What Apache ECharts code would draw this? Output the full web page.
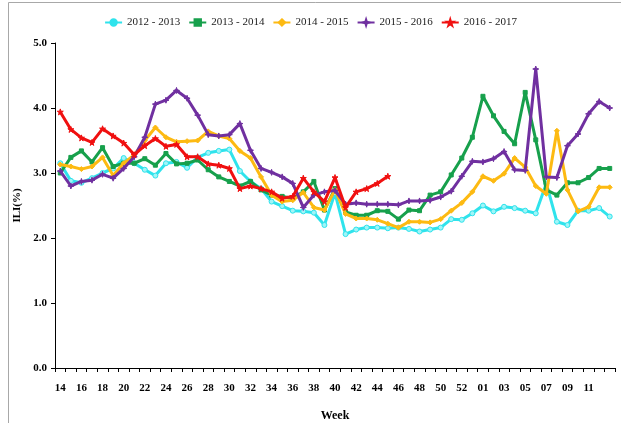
<!DOCTYPE html>
<html>
<head>
<meta charset="utf-8">
<script src="https://cdn.jsdelivr.net/npm/echarts@6/dist/echarts.min.js"></script>
<style>
html,body{margin:0;padding:0;background:#fff;}
#chart{width:621px;height:423px;}
</style>
</head>
<body>
<div id="chart"></div>
<script>
const weeks = ['14','15','16','17','18','19','20','21','22','23','24','25','26','27','28','29','30','31','32','33','34','35','36','37','38','39','40','41','42','43','44','45','46','47','48','49','50','51','52','53','01','02','03','04','05','06','07','08','09','10','11','12','13'];
const yTicks = [0, 1, 2, 3, 4, 5];
const seriesNames = ['2012 - 2013', '2013 - 2014', '2014 - 2015', '2015 - 2016', '2016 - 2017'];
const s2012 = [3.15,2.88,2.85,2.92,3.00,3.07,3.23,3.15,3.05,2.96,3.15,3.17,3.08,3.24,3.31,3.34,3.36,3.03,2.87,2.76,2.56,2.49,2.42,2.41,2.39,2.20,2.69,2.06,2.13,2.16,2.16,2.15,2.16,2.14,2.10,2.13,2.16,2.29,2.28,2.38,2.50,2.41,2.48,2.46,2.42,2.38,2.84,2.25,2.20,2.42,2.42,2.46,2.33];
const s2013 = [3.00,3.24,3.34,3.17,3.39,3.10,3.15,3.15,3.22,3.12,3.30,3.14,3.15,3.20,3.05,2.94,2.87,2.80,2.87,2.74,2.66,2.64,2.61,2.71,2.87,2.43,2.76,2.40,2.35,2.35,2.42,2.41,2.29,2.43,2.42,2.66,2.71,2.97,3.23,3.55,4.18,3.88,3.64,3.45,4.24,3.51,2.74,2.66,2.85,2.85,2.93,3.07,3.07];
const s2014 = [3.13,3.10,3.06,3.10,3.24,2.96,3.15,3.28,3.50,3.70,3.55,3.48,3.49,3.50,3.64,3.57,3.53,3.34,3.23,2.94,2.66,2.56,2.58,2.70,2.47,2.43,2.74,2.37,2.30,2.30,2.28,2.22,2.16,2.25,2.25,2.24,2.29,2.42,2.54,2.71,2.95,2.88,2.99,3.23,3.09,2.80,2.68,3.65,2.74,2.41,2.48,2.78,2.78];
const s2015 = [3.03,2.80,2.87,2.89,2.98,2.92,3.07,3.25,3.55,4.06,4.12,4.27,4.15,3.89,3.59,3.57,3.59,3.76,3.35,3.07,3.01,2.94,2.84,2.47,2.66,2.71,2.73,2.52,2.54,2.52,2.52,2.52,2.51,2.57,2.57,2.58,2.63,2.72,2.95,3.18,3.17,3.22,3.33,3.05,3.04,4.60,2.94,2.93,3.42,3.60,3.91,4.10,4.00];
const s2016 = [3.94,3.67,3.54,3.47,3.68,3.57,3.46,3.28,3.42,3.53,3.41,3.44,3.25,3.25,3.14,3.12,3.07,2.76,2.80,2.76,2.71,2.61,2.64,2.92,2.71,2.56,2.93,2.47,2.71,2.76,2.84,2.95];

const colors = ['#2FE3EC', '#17A04C', '#FDBA12', '#7030A0', '#F01010'];
const symbols = [
  'circle',
  'rect',
  'diamond',
  'path://M50,0 L62,38 L100,50 L62,62 L50,100 L38,62 L0,50 L38,38 Z',
  'path://M50,0 L61,35 L98,35 L68,57 L79,91 L50,70 L21,91 L32,57 L2,35 L39,35 Z'
];
const dataSets = [s2012, s2013, s2014, s2015, s2016];
const sizes = [5, 4, 5, 6, 6];

const chart = echarts.init(document.getElementById('chart'), null, {renderer: 'canvas'});
const serif = 'Liberation Serif';
chart.setOption({
  animation: false,
  backgroundColor: '#fff',
  graphic: [{
    type: 'rect', shape: {x: 8.5, y: 2.5, width: 700, height: 600},
    style: {fill: 'none', stroke: '#a8a8a8', lineWidth: 1}, silent: true
  }],
  legend: {
    top: 12, left: 'center',
    itemWidth: 17, itemHeight: 8, itemGap: 8,
    textStyle: {fontFamily: serif, fontSize: 11, color: '#222'},
    data: seriesNames.map(function (n, k) {
      return {name: n, itemStyle: {color: colors[k], borderColor: colors[k]}};
    })
  },
  grid: {left: 55, right: 6, top: 43, bottom: 55, containLabel: false, outerBoundsMode: 'none'},
  xAxis: {
    type: 'category', data: weeks, boundaryGap: true,
    name: 'Week', nameLocation: 'middle', nameGap: 42,
    nameTextStyle: {fontFamily: serif, fontWeight: 'bold', fontSize: 12, color: '#000'},
    axisLine: {lineStyle: {color: '#000', width: 1}},
    axisTick: {show: true, interval: 0, alignWithLabel: false, length: 4, lineStyle: {color: '#000'}},
    axisLabel: {
      interval: function (i) { return i % 2 === 0 && i < 52; },
      fontFamily: serif, fontWeight: 'bold', fontSize: 11, color: '#000', margin: 15
    },
    splitLine: {show: false}
  },
  yAxis: {
    type: 'value', min: yTicks[0], max: yTicks[yTicks.length - 1], interval: 1,
    name: 'ILI(%)', nameLocation: 'middle', nameGap: 27, nameRotate: 90,
    nameTextStyle: {fontFamily: serif, fontWeight: 'bold', fontSize: 11, color: '#000'},
    axisLine: {show: true, lineStyle: {color: '#000', width: 1}},
    axisTick: {show: true, length: 4, lineStyle: {color: '#000'}},
    axisLabel: {
      formatter: function (v) { return v.toFixed(1); },
      fontFamily: serif, fontWeight: 'bold', fontSize: 11, color: '#000', margin: 8
    },
    splitLine: {show: false}
  },
  series: seriesNames.map(function (name, k) {
    return {
      name: name, type: 'line', data: dataSets[k],
      symbol: symbols[k], symbolSize: sizes[k], showSymbol: true,
      lineStyle: {width: 3, color: colors[k]},
      itemStyle: {color: k === 0 ? '#9ff5f8' : colors[k], borderColor: colors[k], borderWidth: 1},
      z: 2 + k
    };
  })
});
</script>
</body>
</html>
